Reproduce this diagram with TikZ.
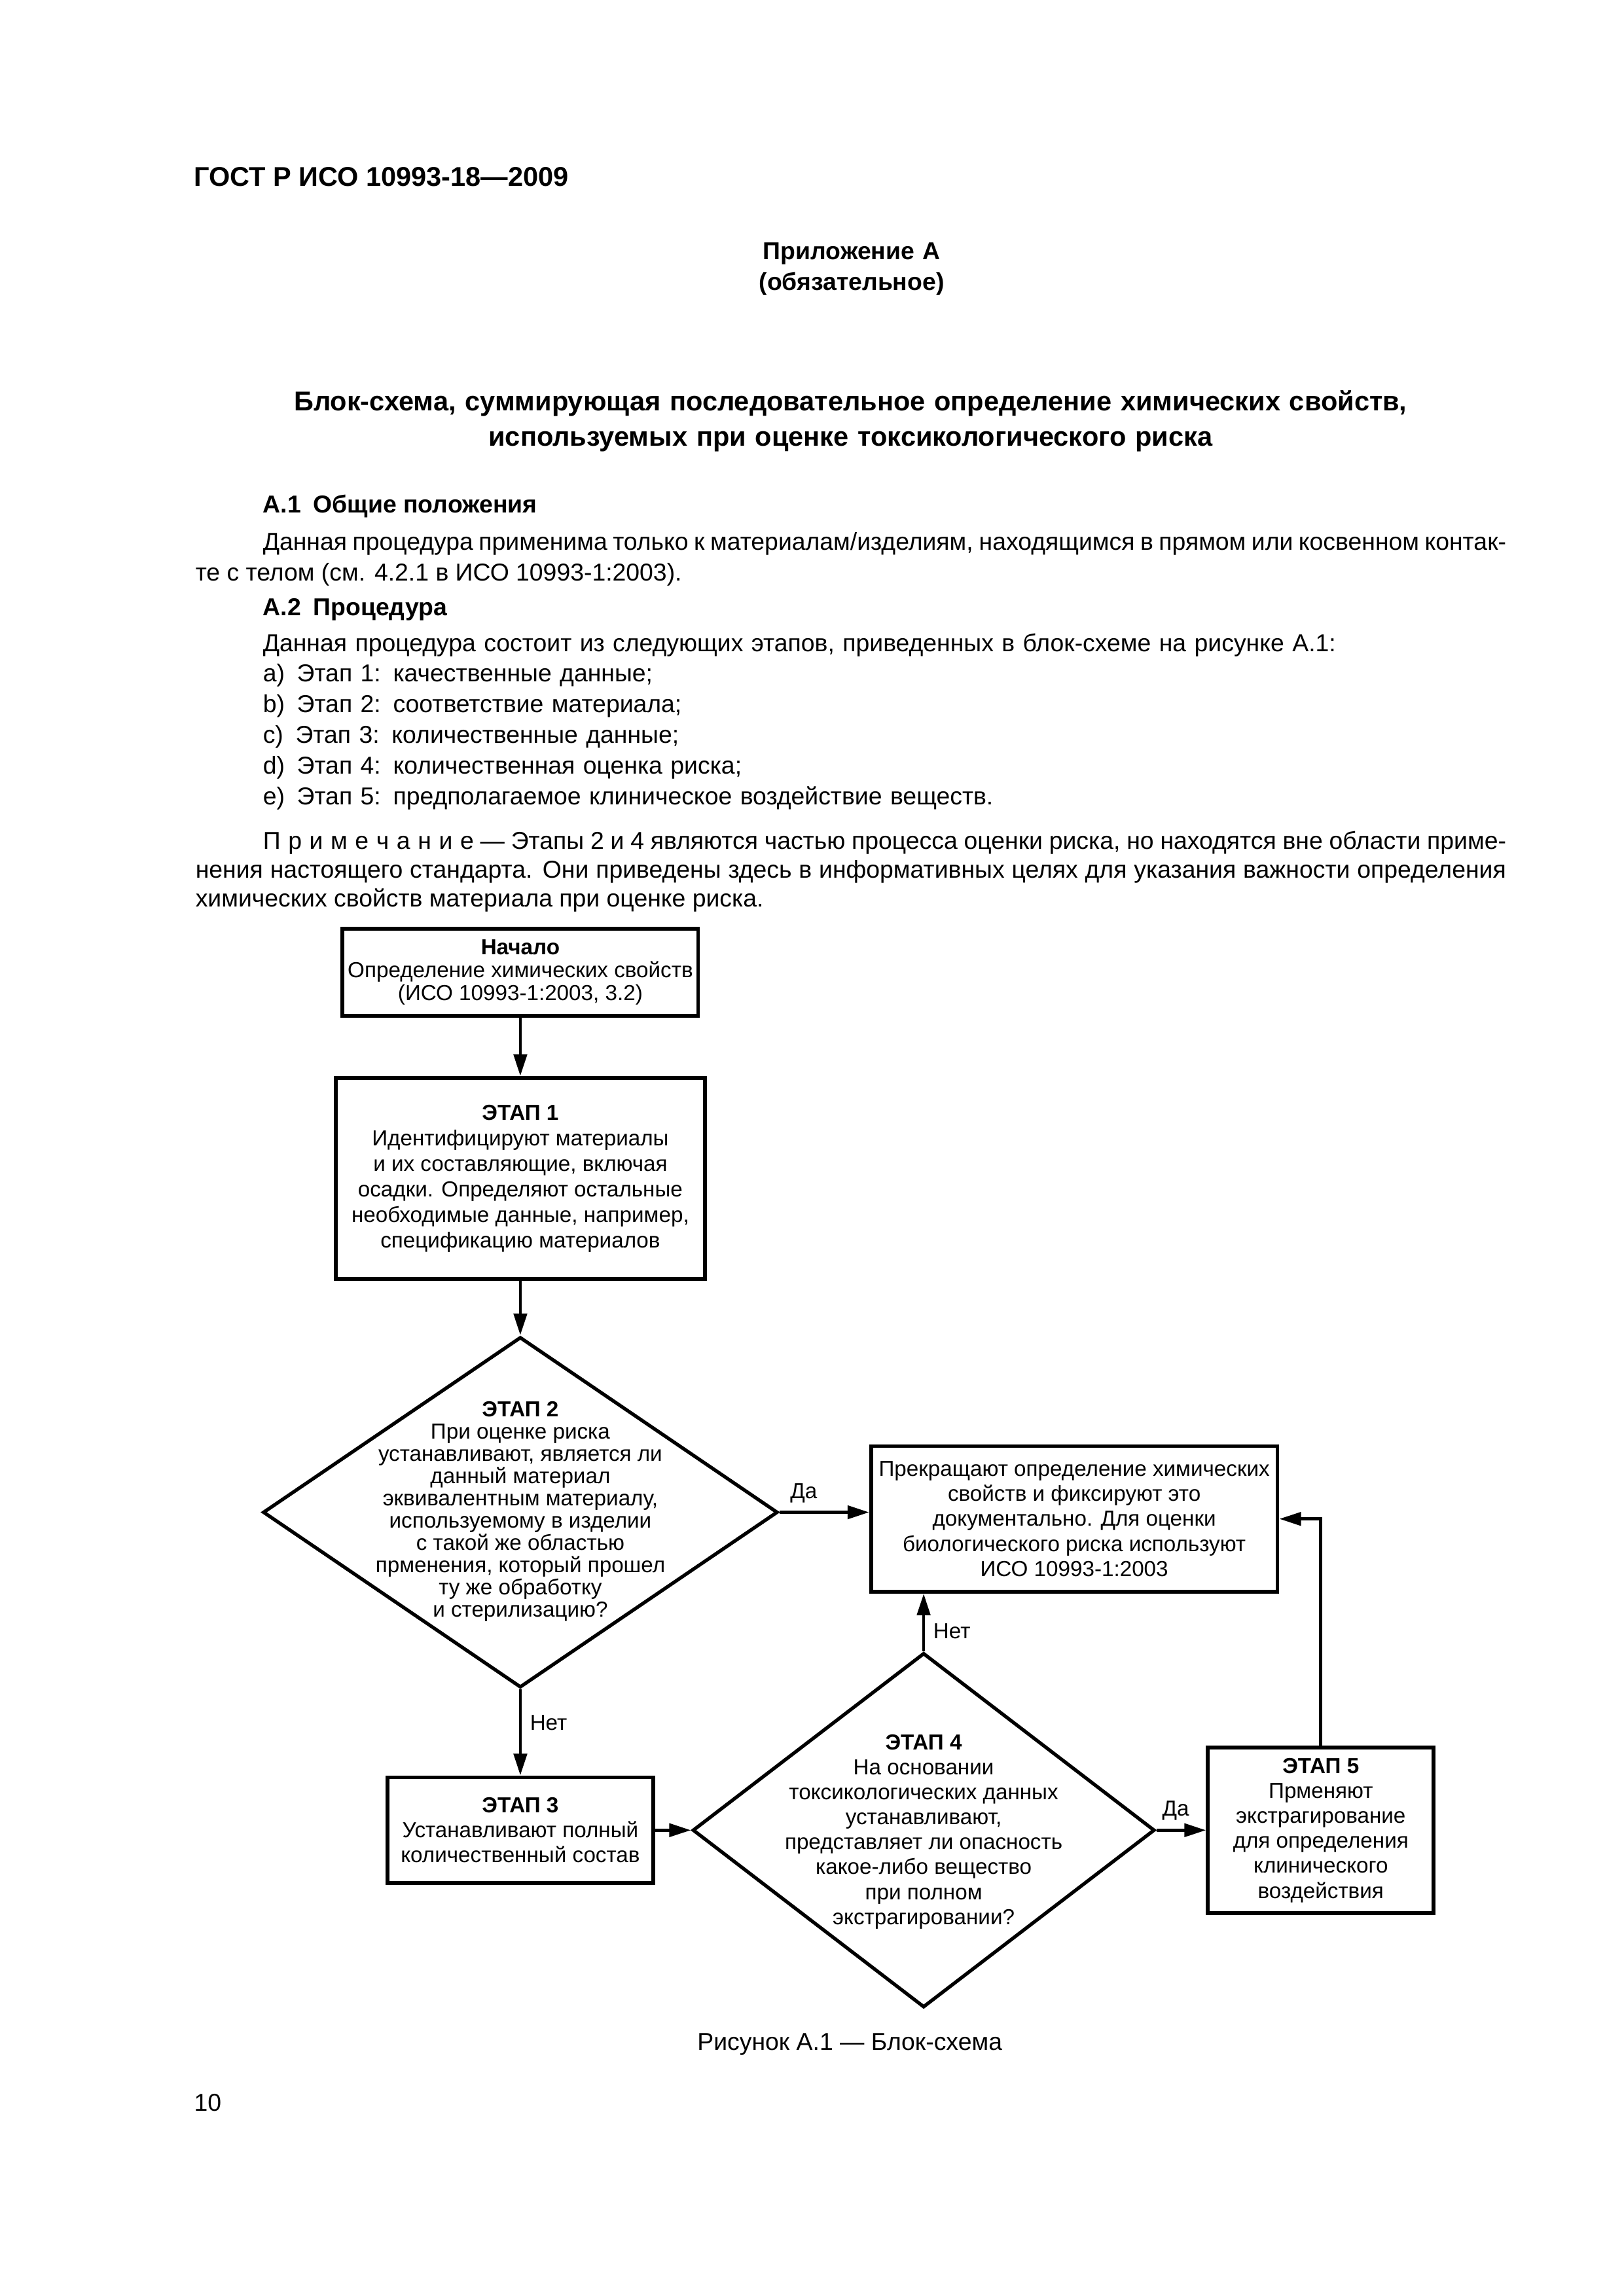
\documentclass[tikz,border=0pt]{standalone}
\usepackage{fontspec}
\setmainfont{Liberation Sans}
\usetikzlibrary{arrows.meta}
\usetikzlibrary{shapes.geometric}
\hyphenpenalty=10000
\tolerance=9999

\tikzset{
    pagetext/.style={inner sep=0pt, font=\fontsize{9}{11.3}\selectfont},
    stagebox/.style={draw, line width=0.5mm, align=center, inner sep=1pt,
        font=\fontsize{8}{9.2}\selectfont},
    stagediamond/.style={draw, diamond, line width=0.45mm, inner sep=0pt},
    stagetext/.style={align=center, inner sep=0pt, font=\fontsize{8}{9.2}\selectfont},
    flow/.style={line width=0.4mm, -{Triangle[length=2.8mm, width=1.7mm]}},
    answer/.style={inner sep=3pt, font=\fontsize{8}{9.2}\selectfont},
}

\begin{document}
\begin{tikzpicture}[x=0.19039mm, y=-0.19039mm]
    \useasboundingbox (0,0) rectangle (1103,1560);
    \fill[white] (0,0) rectangle (1103,1560);

    % page head
    \node[pagetext, font=\fontsize{10}{12}\selectfont\bfseries, anchor=base west]
        (gost) at (131.5,126.6) {ГОСТ Р ИСО 10993-18—2009};
    \node[pagetext, font=\fontsize{9}{11.2}\selectfont\bfseries, anchor=base,
        text width=60mm, align=center]
        (annex) at (578.6,176.5) {Приложение А\\(обязательное)};
    \node[pagetext, font=\fontsize{10}{13.1}\selectfont\bfseries, anchor=base,
        text width=170mm, align=center]
        (title) at (577.8,279) {Блок-схема, суммирующая последовательное определение химических свойств,\\
        используемых при оценке токсикологического риска};

    % text
    \node[pagetext, font=\fontsize{9}{11.3}\selectfont\bfseries, anchor=base west]
        (head1) at (178.3,348.5) {А.1\enspace Общие положения};
    \node[pagetext, anchor=base west, text width=169.5mm, align=justify]
        (para1) at (132.5,373.7) {\hspace*{8.72mm}Данная процедура применима только к материалам/изделиям, находящимся в прямом или косвенном контак-\linebreak
        те с телом (см. 4.2.1 в ИСО 10993-1:2003).};
    \node[pagetext, font=\fontsize{9}{11.3}\selectfont\bfseries, anchor=base west]
        (head2) at (178.3,418.2) {А.2\enspace Процедура};
    \node[pagetext, anchor=base west, text width=160mm, align=left]
        (steps) at (178.3,442.5) {Данная процедура состоит из следующих этапов, приведенных в блок-схеме на рисунке А.1:\\
        a)\enspace Этап 1:\enspace качественные данные;\\
        b)\enspace Этап 2:\enspace соответствие материала;\\
        c)\enspace Этап 3:\enspace количественные данные;\\
        d)\enspace Этап 4:\enspace количественная оценка риска;\\
        e)\enspace Этап 5:\enspace предполагаемое клиническое воздействие веществ.};
    \node[pagetext, font=\fontsize{9}{10.6}\selectfont, anchor=base west, text width=169.5mm, align=justify]
        (note) at (132.5,576.8) {\hspace*{8.72mm}П\hspace{2.8pt}р\hspace{2.8pt}и\hspace{2.8pt}м\hspace{2.8pt}е\hspace{2.8pt}ч\hspace{2.8pt}а\hspace{2.8pt}н\hspace{2.8pt}и\hspace{2.8pt}е~— Этапы 2 и 4 являются частью процесса оценки риска, но находятся вне области приме-\linebreak
        нения настоящего стандарта. Они приведены здесь в информативных целях для указания важности определения\linebreak
        химических свойств материала при оценке риска.};

    % flowchart
    \node[stagebox, minimum width=45.98mm, minimum height=11.23mm, font=\fontsize{8}{8.4}\selectfont]
        (start) at (353.5,660.5) {\textbf{Начало}\\Определение химических свойств\\(ИСО 10993-1:2003, 3.2)};

    \node[stagebox, minimum width=47.71mm, minimum height=26mm, font=\fontsize{8}{9.4}\selectfont]
        (st1) at (353.5,800.7) {\textbf{ЭТАП 1}\\Идентифицируют материалы\\и их составляющие, включая\\осадки. Определяют остальные\\необходимые данные, например,\\спецификацию материалов};

    \node[stagediamond, minimum width=66.58mm, minimum height=45.35mm] (st2) at (353.5,1027.5) {};
        \node[stagetext, font=\fontsize{8}{8.2}\selectfont] (st2text) at (353.5,1027)
            {\textbf{ЭТАП 2}\\При оценке риска\\устанавливают, является ли\\данный материал\\эквивалентным материалу,\\используемому в изделии\\с такой же областью\\прменения, который прошел\\ту же обработку\\и стерилизацию?};

    \node[stagebox, minimum width=52.55mm, minimum height=18.83mm]
        (stop) at (729.8,1032) {Прекращают определение химических\\свойств и фиксируют это\\документально. Для оценки\\биологического риска используют\\ИСО 10993-1:2003};

    \node[stagebox, minimum width=34.33mm, minimum height=13.69mm]
        (st3) at (353.5,1243.5) {\textbf{ЭТАП 3}\\Устанавливают полный\\количественный состав};

    \node[stagediamond, minimum width=59.76mm, minimum height=45.85mm] (st4) at (627.5,1243.5) {};
        \node[stagetext] (st4text) at (627.5,1244.5)
            {\textbf{ЭТАП 4}\\На основании\\токсикологических данных\\устанавливают,\\представляет ли опасность\\какое-либо вещество\\при полном\\экстрагировании?};

    \node[stagebox, minimum width=29.21mm, minimum height=21.46mm]
        (st5) at (897.3,1243.5) {\textbf{ЭТАП 5}\\Прменяют\\экстрагирование\\для определения\\клинического\\воздействия};

    % connectors
    \draw[flow] (start) -- (st1);
    \draw[flow] (st1) -- (st2);
    \draw[flow] (st2.east) -- node[answer, above, pos=0.27] (yes1) {Да} (st2.east -| stop.west);
    \draw[flow] (st2) -- node[answer, right, pos=0.39] (no1) {Нет} (st3);
    \draw[flow] (st3) -- (st4);
    \draw[flow] (st4.north) -- node[answer, right, pos=0.35] (no2) {Нет} (st4.north |- stop.south);
    \draw[flow] (st4) -- node[answer, above, pos=0.39] (yes2) {Да} (st5);
    \draw[flow] (st5.north) |- (stop.east);

    % caption and page number
    \node[pagetext, anchor=base] (caption) at (577.3,1392.9) {Рисунок А.1 — Блок-схема};
    \node[pagetext, anchor=base west] (pageno) at (131.5,1434.5) {10};
\end{tikzpicture}
\end{document}
